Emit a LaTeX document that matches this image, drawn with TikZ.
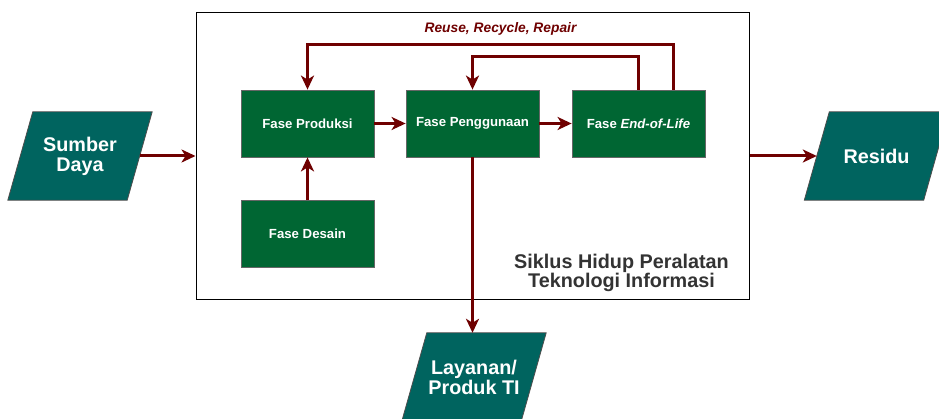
\documentclass[tikz,border=0pt]{standalone}
\usepackage{fontspec}
\setmainfont{Liberation Sans}
\usetikzlibrary{arrows.meta,backgrounds}
\definecolor{arrowred}{HTML}{6F0000}
\definecolor{phase}{HTML}{006633}
\definecolor{iofill}{HTML}{00645F}
\definecolor{txtgray}{HTML}{333333}
\newcommand\ioshape[1]{\draw[ioline] ([xshift=-12.5pt]#1.south west) -- ([xshift=-12.5pt]#1.south east) -- ([xshift=12.5pt]#1.north east) -- ([xshift=12.5pt]#1.north west) -- cycle;}
\begin{document}
\begin{tikzpicture}[x=1pt,y=-1pt,
  phasebox/.style={draw=black!60, line width=0.8pt, fill=phase, minimum width=133pt, minimum height=67pt, inner sep=0pt, text=white, font=\fontsize{13.2}{15}\selectfont\bfseries},
  iobox/.style={minimum width=119pt, minimum height=88pt, inner sep=0pt, text=white, align=center, font=\fontsize{19.8}{20}\selectfont\bfseries},
  ioline/.style={draw=black!70, line width=0.8pt, fill=iofill},
  flow/.style={draw=arrowred, line width=3pt, -{Stealth[length=14pt,width=13pt,inset=4pt]}}]
\useasboundingbox (0,0) rectangle (939,419);
\clip (0,0) rectangle (939,419);
\node[draw=black, line width=1pt, minimum width=553pt, minimum height=287pt, inner sep=0pt] (frame) at (472.5,156.5) {};
\node[phasebox] (prod) at (307.5,123.5) {Fase Produksi};
\node[phasebox] (use) at (472.5,123.5) {Fase Penggunaan};
\node[phasebox] (eol) at (638.5,123.5) {Fase \textit{End-of-Life}};
\node[phasebox] (des) at (307.5,234) {Fase Desain};
\node[text=txtgray, align=center, font=\fontsize{19.8}{18.5}\selectfont\bfseries] (cap) at (621.5,273) {Siklus Hidup Peralatan\\Teknologi Informasi};
\node[text=arrowred, font=\fontsize{13.8}{15}\selectfont\bfseries\itshape] (lbl) at (500.5,29) {Reuse, Recycle, Repair};
\node[iobox] (sd) at (80,156) {Sumber\\Daya};
\node[iobox] (res) at (876.5,156) {Residu};
\node[iobox] (lay) at (474,377) {Layanan/\\Produk TI};
\begin{scope}[on background layer]
\fill[white] (0,0) rectangle (939,419);
\ioshape{sd}
\ioshape{res}
\ioshape{lay}
\end{scope}
\draw[flow] (prod) -- (use);
\draw[flow] (use) -- (eol);
\draw[flow] (des) -- (prod);
\draw[flow] ([xshift=34.5pt]eol.north) -- ++(0,-45) -| (prod.north);
\draw[flow] (eol.north) -- ++(0,-33) -| (use.north);
\draw[flow] (sd.east) -- (frame.west |- sd.east);
\draw[flow] (frame.east |- res.west) -- (res.west);
\draw[flow] (use.south) -- (use.south |- lay.north);
\end{tikzpicture}
\end{document}
